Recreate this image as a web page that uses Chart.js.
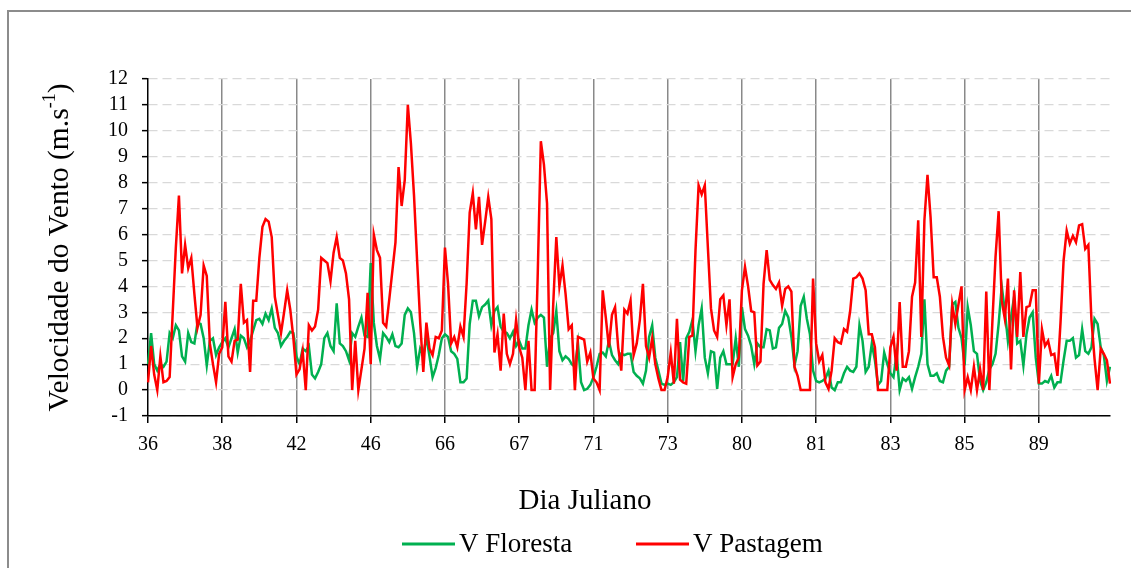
<!DOCTYPE html>
<html>
<head>
<meta charset="utf-8">
<script src="https://cdn.jsdelivr.net/npm/chart.js@4"></script>
<style>
  html, body { margin: 0; padding: 0; background: #fff; overflow: hidden; }
  #frame { position: absolute; left: 7px; top: 10px; width: 1200px; height: 600px;
           border-left: 2px solid #8c8c8c; border-top: 2px solid #8c8c8c; }
  #chart { position: absolute; left: 0; top: 0; }
</style>
</head>
<body>
<div id="frame"></div>
<canvas id="chart" width="1131" height="568"></canvas>
<script>
// dias julianos (24 leituras horarias por dia)
const dias = ['36', '38', '42', '46', '66', '67', '71', '73', '80', '81', '83', '85', '89'];
const leiturasPorDia = 24;

const vFloresta = [
    1.0, 2.2, 1.0, 0.75, 1.0, 0.9, 1.1, 2.2, 2.0, 2.5, 2.3, 1.3, 1.1, 2.2, 1.85, 1.8, 2.6, 2.55, 2.0, 0.95, 1.9, 2.0, 1.35, 1.65,
    1.85, 2.0, 1.65, 2.0, 2.35, 1.45, 2.1, 2.0, 1.65, 1.9, 2.3, 2.7, 2.75, 2.55, 2.95, 2.7, 3.15, 2.4, 2.2, 1.7, 1.9, 2.05, 2.25, 2.2,
    1.3, 1.0, 1.6, 1.5, 1.7, 0.6, 0.45, 0.7, 1.0, 2.0, 2.2, 1.7, 1.5, 3.35, 1.8, 1.7, 1.5, 1.15, 2.2, 2.05, 2.45, 2.8, 2.1, 2.05,
    4.9, 2.6, 1.7, 1.2, 2.2, 2.05, 1.85, 2.15, 1.7, 1.65, 1.8, 2.9, 3.15, 3.0, 2.2, 0.9, 1.6, 1.35, 2.05, 1.3, 0.5, 0.85, 1.35, 2.0,
    2.15, 2.05, 1.5, 1.4, 1.2, 0.3, 0.3, 0.45, 2.55, 3.45, 3.45, 2.85, 3.2, 3.3, 3.45, 2.5, 3.05, 3.2, 2.45, 2.25, 2.2, 2.0, 2.25, 1.7,
    1.9, 1.6, 1.6, 2.5, 3.1, 2.6, 2.8, 2.9, 2.8, 0.9, 2.0, 2.2, 3.05, 1.5, 1.15, 1.3, 1.2, 1.0, 0.9, 1.8, 0.3, 0.0, 0.05, 0.2,
    0.5, 0.9, 1.4, 1.45, 1.3, 1.9, 1.35, 1.15, 1.0, 1.4, 1.35, 1.4, 1.4, 0.7, 0.55, 0.45, 0.25, 0.75, 2.05, 2.5, 1.25, 0.75, 0.25, 0.2,
    0.25, 0.2, 0.3, 0.5, 1.85, 0.35, 2.0, 2.25, 2.7, 1.5, 2.5, 3.15, 1.25, 0.65, 1.5, 1.45, 0.05, 1.25, 1.5, 1.0, 1.0, 1.0, 2.0, 0.9,
    3.2, 2.35, 2.1, 1.7, 1.0, 1.8, 1.65, 1.65, 2.35, 2.3, 1.6, 1.65, 2.4, 2.55, 3.05, 2.8, 2.05, 0.95, 1.5, 3.25, 3.6, 2.75, 2.15, 0.75,
    0.35, 0.3, 0.35, 0.45, 0.75, 0.1, 0.0, 0.3, 0.3, 0.65, 0.9, 0.75, 0.7, 0.9, 2.5, 1.9, 0.7, 0.9, 1.8, 1.15, 0.2, 0.35, 1.45, 1.0,
    0.65, 0.5, 1.4, 0.0, 0.45, 0.35, 0.5, 0.05, 0.5, 0.9, 1.4, 3.5, 1.0, 0.55, 0.55, 0.65, 0.35, 0.3, 0.75, 0.9, 3.3, 3.4, 2.4, 2.0,
    0.95, 3.2, 2.5, 1.5, 1.4, 0.35, 0.0, 0.3, 0.8, 1.0, 1.4, 2.55, 4.0, 3.05, 1.9, 2.8, 3.6, 1.8, 1.9, 0.95, 2.15, 2.8, 3.0, 1.25,
    0.25, 0.25, 0.35, 0.3, 0.55, 0.1, 0.3, 0.3, 1.15, 1.9, 1.9, 2.0, 1.25, 1.35, 2.35, 1.5, 1.4, 1.65, 2.75, 2.55, 1.65, 1.35, 0.35, 0.9
];

const vPastagem = [
    0.3, 1.7, 0.6, 0.0, 1.3, 0.3, 0.35, 0.5, 3.0, 5.5, 7.5, 4.5, 5.6, 4.7, 5.1, 3.7, 2.4, 2.9, 4.8, 4.4, 1.8, 1.0, 0.3, 1.4,
    1.65, 3.4, 1.3, 1.1, 1.9, 1.95, 4.1, 2.6, 2.7, 0.7, 3.45, 3.45, 5.1, 6.3, 6.6, 6.5, 5.9, 3.6, 2.9, 2.2, 3.0, 3.85, 3.1, 2.0,
    0.6, 0.8, 1.5, 0.0, 2.5, 2.3, 2.45, 3.1, 5.1, 5.0, 4.9, 4.2, 5.3, 5.9, 5.1, 5.0, 4.5, 3.5, 0.0, 1.9, 0.0, 0.8, 1.6, 3.75,
    1.0, 6.0, 5.4, 5.1, 2.6, 2.45, 3.5, 4.6, 5.7, 8.6, 7.1, 8.1, 11.0, 9.5, 7.5, 5.0, 2.6, 0.7, 2.6, 1.6, 1.35, 2.05, 2.0, 2.3,
    5.5, 4.1, 1.8, 2.05, 1.65, 2.45, 2.05, 4.1, 6.85, 7.6, 6.2, 7.45, 5.6, 6.5, 7.45, 6.6, 1.45, 2.15, 0.75, 2.95, 1.4, 1.0, 1.4, 2.7,
    1.65, 1.25, 0.0, 1.9, 0.0, 0.0, 4.5, 9.6, 8.7, 7.2, 0.0, 3.3, 5.9, 4.0, 4.8, 3.7, 2.35, 2.5, 0.0, 2.05, 2.0, 1.95, 1.1, 1.45,
    0.45, 0.3, 0.0, 3.85, 2.8, 1.65, 2.9, 3.2, 1.65, 0.75, 3.1, 2.95, 3.45, 1.35, 1.8, 2.7, 4.1, 1.7, 1.25, 2.0, 1.0, 0.45, 0.0, 0.0,
    0.5, 1.45, 0.25, 2.75, 0.4, 0.3, 0.25, 2.05, 2.1, 5.4, 7.9, 7.55, 7.9, 5.5, 3.15, 2.3, 2.05, 3.5, 3.65, 2.5, 3.5, 0.5, 1.0, 1.25,
    3.85, 4.75, 4.0, 3.05, 3.0, 0.95, 1.1, 4.1, 5.4, 4.25, 4.05, 3.9, 4.15, 3.25, 3.9, 4.0, 3.8, 0.9, 0.55, 0.0, 0.0, 0.0, 0.0, 4.3,
    1.8, 1.1, 1.35, 0.3, 0.05, 0.75, 2.0, 1.85, 1.8, 2.35, 2.25, 3.05, 4.3, 4.35, 4.5, 4.3, 3.85, 2.15, 2.15, 1.65, 0.0, 0.0, 0.0, 0.0,
    1.65, 2.05, 0.75, 3.4, 0.9, 0.9, 1.5, 3.6, 4.15, 6.55, 2.05, 6.55, 8.3, 6.65, 4.35, 4.35, 3.6, 2.05, 1.25, 0.95, 3.3, 2.55, 3.3, 4.0,
    0.0, 0.5, 0.0, 0.9, 0.0, 0.8, 0.0, 3.8, 0.0, 2.7, 5.15, 6.9, 3.45, 2.75, 4.3, 0.8, 3.85, 2.05, 4.55, 2.05, 3.2, 3.25, 3.85, 3.85,
    0.25, 2.35, 1.7, 1.9, 1.35, 1.4, 0.55, 2.6, 5.0, 6.15, 5.65, 5.95, 5.7, 6.35, 6.4, 5.45, 5.6, 2.7, 1.2, 0.0, 1.6, 1.4, 1.15, 0.25
];

const yMin = -1;
const yMax = 12;

const fonte = "'Liberation Serif', 'Times New Roman', serif";

// rotulos do eixo x: dia juliano so na primeira leitura de cada dia
const rotulos = vPastagem.map(function (v, i) {
    return i % leiturasPorDia === 0 ? dias[i / leiturasPorDia] : '';
});

// titulos dos eixos e legenda desenhados a mao (sobrescrito no m.s-1)
const textos = {
    id: 'textos',
    afterDraw: function (chart) {
        const ctx = chart.ctx;
        const area = chart.chartArea;
        ctx.save();
        ctx.fillStyle = '#000';

        // titulo do eixo y
        const fMain = '29.5px ' + fonte;
        const fSup = '18px ' + fonte;
        const t1 = 'Velocidade do Vento (m.s', t2 = '-1', t3 = ')';
        ctx.font = fMain;
        const w1 = ctx.measureText(t1).width, w3 = ctx.measureText(t3).width;
        ctx.font = fSup;
        const w2 = ctx.measureText(t2).width;
        const total = w1 + w2 + w3;
        ctx.translate(60, (area.top + area.bottom) / 2);
        ctx.rotate(-Math.PI / 2);
        ctx.textBaseline = 'middle';
        ctx.textAlign = 'left';
        let x = -total / 2;
        ctx.font = fMain;
        ctx.fillText(t1, x, 0);
        x += w1;
        ctx.font = fSup;
        ctx.fillText(t2, x, -10);
        x += w2;
        ctx.font = fMain;
        ctx.fillText(t3, x, 0);
        ctx.restore();

        // titulo do eixo x
        ctx.save();
        ctx.fillStyle = '#000';
        ctx.font = '29px ' + fonte;
        ctx.textAlign = 'center';
        ctx.textBaseline = 'middle';
        ctx.fillText('Dia Juliano', 585, 501);

        // legenda
        ctx.font = '27px ' + fonte;
        ctx.textAlign = 'left';
        const itens = [[402, 0], [636, 1]];
        itens.forEach(function (it) {
            const ds = chart.data.datasets[it[1]];
            ctx.strokeStyle = ds.borderColor;
            ctx.lineWidth = 3;
            ctx.beginPath();
            ctx.moveTo(it[0], 544);
            ctx.lineTo(it[0] + 53, 544);
            ctx.stroke();
            ctx.fillText(ds.label, it[0] + 57, 545);
        });
        ctx.restore();
    }
};

new Chart(document.getElementById('chart'), {
    type: 'line',
    data: {
        labels: rotulos,
        datasets: [{
            label: 'V Floresta',
            data: vFloresta,
            borderColor: '#00b050',
            backgroundColor: '#00b050',
            borderWidth: 2.5,
            pointRadius: 0,
            tension: 0,
            order: 1
        }, {
            label: 'V Pastagem',
            data: vPastagem,
            borderColor: '#ff0000',
            backgroundColor: '#ff0000',
            borderWidth: 2.5,
            pointRadius: 0,
            tension: 0,
            order: 0
        }]
    },
    options: {
        responsive: false,
        animation: false,
        devicePixelRatio: 1,
        layout: { padding: { top: 79, right: 21, left: 0, bottom: 0 } },
        plugins: {
            legend: { display: false },
            tooltip: { enabled: false }
        },
        scales: {
            x: {
                offset: false,
                afterFit: function (scale) { scale.height = 152; },
                ticks: {
                    autoSkip: false,
                    maxRotation: 0,
                    color: '#000',
                    font: { family: fonte, size: 20 },
                    padding: 10
                },
                grid: {
                    offset: false,
                    lineWidth: 1.5,
                    tickLength: 7,
                    tickWidth: 1.5,
                    color: function (c) {
                        return (c.index % leiturasPorDia === 0 && c.index > 0) ? '#898989' : 'rgba(0,0,0,0)';
                    },
                    tickColor: function (c) {
                        return c.index % leiturasPorDia === 0 ? '#000' : 'rgba(0,0,0,0)';
                    }
                },
                border: { color: '#000', width: 1.5 }
            },
            y: {
                min: yMin,
                max: yMax,
                afterFit: function (scale) { scale.width = 148; },
                ticks: {
                    stepSize: 1,
                    autoSkip: false,
                    color: '#000',
                    font: { family: fonte, size: 20 },
                    padding: 14
                },
                grid: {
                    color: '#d9d9d9',
                    lineWidth: 1.3,
                    tickColor: '#000',
                    tickLength: 6,
                    tickWidth: 1.5,
                    tickBorderDash: []
                },
                border: { color: '#000', width: 1.5, dash: [9, 5] }
            }
        }
    },
    plugins: [textos]
});
</script>
</body>
</html>
